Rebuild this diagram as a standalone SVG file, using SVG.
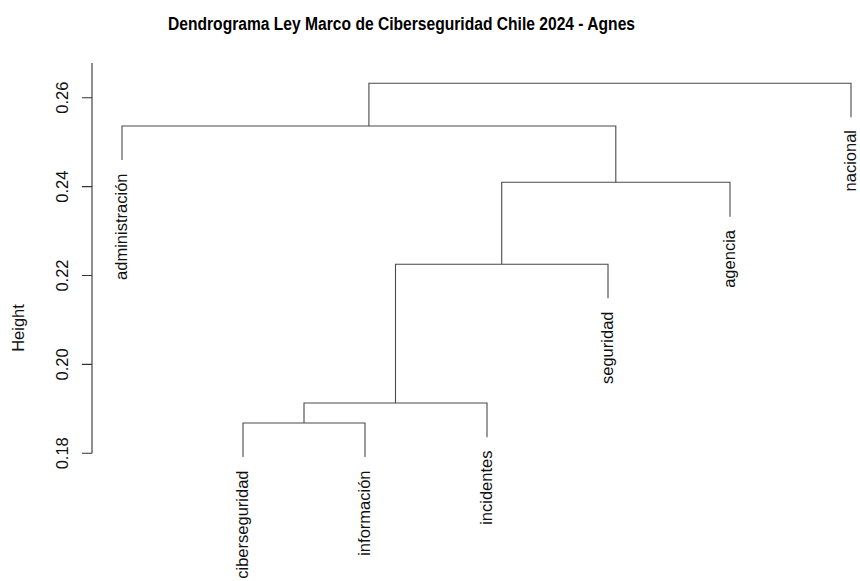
<svg xmlns="http://www.w3.org/2000/svg" width="860" height="581" viewBox="0 0 860 581">
<style>
.ln{fill:none;stroke:#4a4a4a;stroke-width:1.1}
.ax{fill:none;stroke:#333;stroke-width:1.1}
.lb{font-family:"Liberation Sans",Arial,sans-serif;font-size:16.5px;fill:#111}
.title{font-family:"Liberation Sans",Arial,sans-serif;font-size:17.5px;font-weight:bold;fill:#000}
</style>
<rect width="860" height="581" fill="#fff"/>
<text class="title" x="401.5" y="30" text-anchor="middle" textLength="467" lengthAdjust="spacingAndGlyphs">Dendrograma Ley Marco de Ciberseguridad Chile 2024 - Agnes</text>
<g id="axis">
<path class="ax" d="M92 63V453.3M82 453.3H92M82 364.4H92M82 275.5H92M82 186.6H92M82 97.7H92"/>
<text class="lb" text-anchor="middle" transform="translate(68,453.3) rotate(-90)">0.18</text>
<text class="lb" text-anchor="middle" transform="translate(68,364.4) rotate(-90)">0.20</text>
<text class="lb" text-anchor="middle" transform="translate(68,275.5) rotate(-90)">0.22</text>
<text class="lb" text-anchor="middle" transform="translate(68,186.6) rotate(-90)">0.24</text>
<text class="lb" text-anchor="middle" transform="translate(68,97.7) rotate(-90)">0.26</text>
<text class="lb" text-anchor="middle" transform="translate(24,328) rotate(-90)">Height</text>
</g>
<g id="connectors">
<path class="ln" d="M243 457V423H365V457"/>
<path class="ln" d="M304 423V403H487V437.3"/>
<path class="ln" d="M395.5 403V264.3H608V298.3"/>
<path class="ln" d="M501.7 264.3V182.3H730V216.7"/>
<path class="ln" d="M615.8 182.3V126H122V160"/>
<path class="ln" d="M368.9 126V83.3H851V117.3"/>
</g>
<g id="administracion"><text class="lb" text-anchor="end" transform="translate(127,173.5) rotate(-90)">administración</text></g>
<g id="ciberseguridad"><text class="lb" text-anchor="end" transform="translate(248,470.5) rotate(-90)">ciberseguridad</text></g>
<g id="informacion"><text class="lb" text-anchor="end" transform="translate(370,470.5) rotate(-90)">información</text></g>
<g id="incidentes"><text class="lb" text-anchor="end" transform="translate(492,450.5) rotate(-90)">incidentes</text></g>
<g id="seguridad"><text class="lb" text-anchor="end" transform="translate(613,311.5) rotate(-90)">seguridad</text></g>
<g id="agencia"><text class="lb" text-anchor="end" transform="translate(735,230) rotate(-90)">agencia</text></g>
<g id="nacional"><text class="lb" text-anchor="end" transform="translate(856,130) rotate(-90)">nacional</text></g>
</svg>
